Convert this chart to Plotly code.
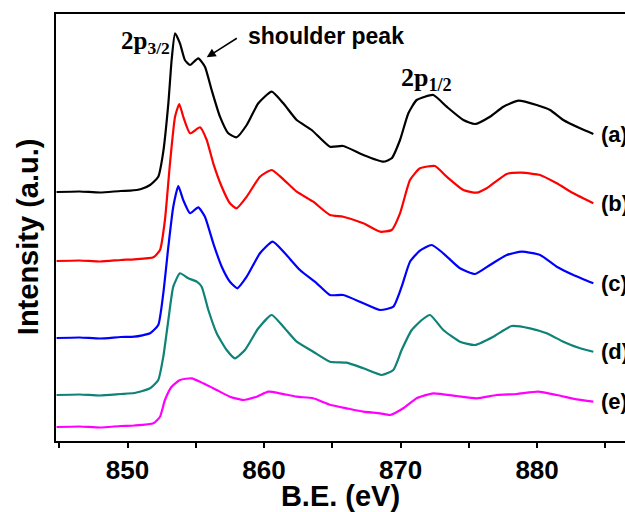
import plotly.graph_objects as go

# Ni 2p XPS spectra, stacked with vertical offsets (binding energy in eV, intensity in a.u.)
be_a = [844.8, 846.5, 848.0, 849.5, 850.2, 851.0, 851.65, 852.25, 852.6, 852.99, 853.23, 853.48,
        853.84, 854.2, 854.58, 855.18, 855.67, 856.16, 856.77, 857.38, 857.99, 858.73, 859.58,
        860.56, 861.41, 862.39, 863.49, 864.83, 865.8, 867.27, 868.74, 869.35, 869.96, 870.57,
        871.18, 872.4, 873.38, 874.6, 875.45, 876.55, 877.53, 878.63, 879.97, 880.95, 881.92,
        883.15, 884.12]
int_a = [249, 249.5, 248.5, 250, 250.3, 252, 256, 264.3, 287.7, 337.7, 381, 407.7,
         397.7, 381, 376, 382.7, 374.3, 351, 324.3, 307.7, 303.7, 316, 337.7,
         349.3, 337.7, 321, 311, 294.3, 295, 286, 279.3, 282.7, 301, 327.7,
         341, 346, 334.3, 321, 317, 324.3, 334.3, 340.3, 336, 331, 321,
         312.7, 307]

be_b = [844.8, 846.5, 848.0, 849.5, 850.5, 851.9, 852.38, 852.74, 853.11, 853.48, 853.79, 854.08,
        854.58, 855.31, 855.8, 856.28, 856.9, 857.5, 857.99, 858.73, 859.7, 860.56, 861.41,
        862.39, 863.6, 864.83, 865.8, 867.27, 868.5, 869.35, 869.96, 870.69, 871.42, 872.52,
        873.38, 874.6, 875.58, 876.31, 877.78, 878.88, 880.22, 881.44, 882.66, 884.12]
int_b = [180, 180.5, 179.5, 181, 181.7, 183.7, 191, 221, 277.7, 324.3, 337, 324.3,
         307.7, 313.7, 301, 277.7, 254.3, 237.7, 232.7, 244.3, 264.3, 271, 261.7,
         249.3, 239.3, 226, 224.3, 217.7, 209.3, 211, 227.7, 261, 272.7, 275,
         264.3, 251, 248.3, 252.7, 267, 268.3, 266, 257.7, 247.7, 237.7]

be_c = [844.8, 846.5, 848.0, 849.5, 850.5, 851.65, 852.25, 852.62, 852.99, 853.35, 853.72, 854.08,
        854.58, 855.18, 855.67, 856.28, 856.9, 857.5, 858.04, 858.73, 859.7, 860.63, 861.53,
        862.63, 863.86, 864.83, 865.8, 867.27, 868.5, 869.47, 870.08, 870.69, 871.42, 872.28,
        873.13, 874.35, 875.45, 876.55, 877.78, 878.88, 880.22, 881.44, 882.66, 884.12]
int_c = [103, 103.5, 102.5, 104, 104.3, 107.7, 116, 147.7, 194.3, 234.3, 255, 241,
         227.7, 233.7, 224.3, 197.7, 174.3, 159.3, 152.7, 164.3, 187.7, 199.3, 187.7,
         171, 157.7, 146, 146, 137.7, 131, 134.3, 154.3, 179.3, 190.3, 196,
         187.7, 172.7, 167, 176, 186, 189.3, 186, 174.3, 166, 157.7]

be_d = [844.8, 846.5, 848.0, 849.5, 850.5, 851.65, 852.25, 852.62, 852.99, 853.35, 853.84, 854.45,
        855.07, 855.43, 855.92, 856.53, 857.26, 857.87, 858.6, 859.58, 860.56, 861.41, 862.39,
        863.6, 864.83, 866.05, 867.27, 868.62, 869.47, 870.08, 870.82, 871.55, 872.16, 873.13,
        874.35, 875.45, 876.8, 878.14, 879.48, 880.7, 881.92, 883.15, 884.12]
int_d = [46, 46.5, 45.5, 47, 48, 52.7, 61, 84.3, 121, 154.3, 167.7, 162.7,
         159.3, 154.3, 131, 107.7, 91, 82.7, 91, 112.7, 126, 114.3, 99.3,
         89.3, 79.3, 78.3, 72.7, 66, 71, 91, 111, 121, 126, 111,
         99.3, 96, 104.3, 115, 112.7, 107.7, 99.3, 92.7, 89.3]

be_e = [844.8, 846.5, 848.0, 849.5, 850.5, 851.9, 852.38, 852.74, 853.23, 853.84, 854.7, 855.55,
        856.53, 857.5, 858.48, 859.46, 860.31, 861.17, 862.39, 863.6, 864.83, 866.05, 867.27,
        868.5, 869.23, 870.2, 871.18, 872.4, 874.11, 875.58, 877.04, 878.51, 880.09, 881.44,
        882.9, 884.12]
int_e = [14, 14.5, 13.5, 15, 15.5, 17.7, 24.3, 41, 54.3, 61, 62.7, 57.7,
         51, 44.3, 41, 44.3, 49.3, 47.7, 44.3, 42.7, 36.3, 32.7, 29.3,
         27.7, 26, 32.7, 42.7, 47.7, 45, 42.7, 46, 47, 49.3, 46,
         41.7, 39.3]

series = [
    ("(a)", be_a, int_a, "#000000"),
    ("(b)", be_b, int_b, "#ff0000"),
    ("(c)", be_c, int_c, "#0000ff"),
    ("(d)", be_d, int_d, "#0f8278"),
    ("(e)", be_e, int_e, "#ff00ff"),
]

tick_vals = [845, 850, 855, 860, 865, 870, 875, 880, 885]
tick_text = ["", "850", "", "860", "", "870", "", "880", ""]

fig = go.Figure()
for name, xs, ys, color in series:
    fig.add_trace(go.Scatter(
        x=xs, y=ys, mode="lines", name=name,
        line=dict(color=color, width=2.2, shape="spline", smoothing=0.5),
        showlegend=False,
    ))

sans = "Liberation Sans"
serif = "Liberation Serif"

# curve labels at the right-hand end of each spectrum
for name, xs, ys, color in series:
    fig.add_annotation(
        x=884.5, y=ys[-1], text=name, showarrow=False,
        xanchor="left", yanchor="middle",
        font=dict(family=sans, size=22, weight="bold", color="black"),
    )

fig.add_annotation(
    x=853.25, y=399, text="2p<sub>3/2</sub>", showarrow=False,
    xanchor="right", yanchor="middle",
    font=dict(family=serif, size=25, weight="bold", color="black"),
)
fig.add_annotation(
    x=869.9, y=362, text="2p<sub>1/2</sub>", showarrow=False,
    xanchor="left", yanchor="middle",
    font=dict(family=serif, size=26, weight="bold", color="black"),
)
fig.add_annotation(
    x=858.7, y=405, text="shoulder peak", showarrow=False,
    xanchor="left", yanchor="middle",
    font=dict(family=sans, size=23, weight="bold", color="black"),
)
fig.add_annotation(
    x=855.8, y=383.7, ax=31.6, ay=-20, text="",
    showarrow=True, arrowhead=2, arrowsize=1.2, arrowwidth=1.5, arrowcolor="black",
)

# vertical axis title, placed left of the frame
fig.add_annotation(
    xref="paper", yref="paper", x=-0.048, y=0.479,
    text="Intensity (a.u.)", textangle=-90, showarrow=False,
    xanchor="center", yanchor="middle",
    font=dict(family=sans, size=29, weight="bold", color="black"),
)

fig.update_layout(
    width=625, height=512,
    margin=dict(l=56, r=0, t=14, b=71),
    paper_bgcolor="white", plot_bgcolor="white",
    xaxis=dict(
        range=[844.76, 886.44],
        tickvals=tick_vals, ticktext=tick_text,
        ticks="outside", ticklen=5, tickwidth=1.5, tickcolor="black",
        showline=True, linewidth=2, linecolor="black", mirror=True,
        showgrid=False, zeroline=False,
        tickfont=dict(family=sans, size=26, weight="bold", color="black"),
        title=dict(text="B.E. (eV)", standoff=2,
                   font=dict(family=sans, size=29, weight="bold", color="black")),
    ),
    yaxis=dict(
        range=[0, 427],
        showticklabels=False, ticks="",
        showline=True, linewidth=2, linecolor="black",
        showgrid=False, zeroline=False,
    ),
)

fig.write_html("out.html")
